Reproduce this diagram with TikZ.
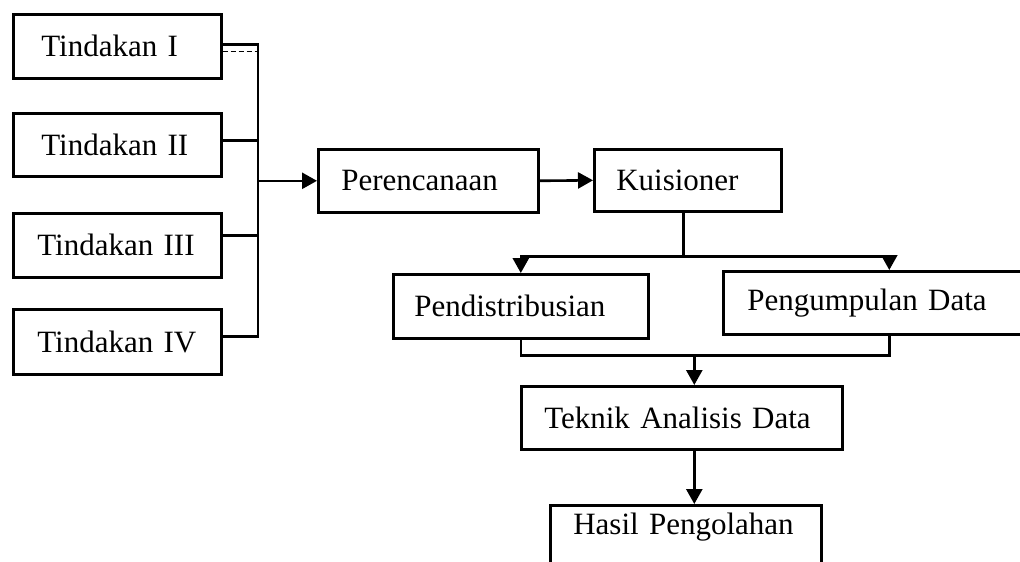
\documentclass[tikz,border=0pt]{standalone}
\usepackage{fontspec}
\setmainfont{Liberation Serif}
\usetikzlibrary{arrows.meta}
\begin{document}
\begin{tikzpicture}[x=1pt,y=-1pt,
  box/.style={draw, line width=2.6pt, anchor=north west, inner xsep=0pt, inner ysep=0pt,
    align=left, font=\fontsize{31}{36}\selectfont},
  conn/.style={line width=2.6pt},
  arr/.style={line width=2.6pt, -{Triangle[length=15pt,width=16pt]}}]
\useasboundingbox (0,0) rectangle (1020,562);
\clip (0,0) rectangle (1020,562);
% nodes
\node[box, text width=208pt, minimum height=64pt] (T1) at (12,13) {\hspace*{28pt}Tindakan I};
\node[box, text width=208pt, minimum height=63pt] (T2) at (12,112) {\hspace*{28pt}Tindakan II};
\node[box, text width=208pt, minimum height=64pt] (T3) at (12,212) {\hspace*{24pt}Tindakan III};
\node[box, text width=208pt, minimum height=65pt] (T4) at (12,308) {\hspace*{24pt}Tindakan IV};
\node[box, text width=220pt, minimum height=63pt] (Per) at (317,148) {\hspace*{23pt}Perencanaan};
\node[box, text width=187pt, minimum height=62pt] (Kui) at (593,148) {\hspace*{22pt}Kuisioner};
\node[box, text width=255pt, minimum height=64pt] (Pend) at (392,273) {\hspace*{21pt}Pendistribusian};
\node[box, text width=332pt, minimum height=63pt] (Peng) at (722,270) {\hspace*{24pt}Pengumpulan Data};
\node[box, text width=321pt, minimum height=63pt] (Tek) at (520,385) {\hspace*{23pt}Teknik Analisis Data};
\node[box, text width=271pt, text height=29pt, text depth=50pt] (Has) at (549,504) {\hspace*{23pt}Hasil Pengolahan};
% bus on the left
\path (Per.west) ++(-59,0) coordinate (bj);
\draw[conn] ([yshift=2pt]T1.east) -| (bj);
\draw[conn] ([yshift=4.5pt]T2.east) -| (bj);
\draw[conn] ([yshift=10pt]T3.east) -| (bj);
\draw[conn] ([yshift=5.5pt]T4.east) -| (bj);
\draw[dashed, line width=1pt, dash pattern=on 5pt off 3pt] ([yshift=-5pt]T1.east) -- ([yshift=-5pt]T1.east -| bj);
\draw[arr] (bj) -- (Per.west);
\draw[arr] (Per.east) -- (Kui.west);
% split below Kuisioner
\path ([xshift=-4.5pt]Kui.south) ++(0,44) coordinate (ks);
\draw[conn] ([xshift=-4.5pt]Kui.south) -- (ks);
\draw[arr] (ks) -| (Pend.north);
\draw[arr] (ks) -| (Peng.north);
% merge
\path (Pend.south) ++(173.5,16) coordinate (bm);
\draw[conn] (Pend.south) |- (bm) -| (Peng.south);
\draw[arr] (bm) -- (bm |- Tek.north);
\draw[arr] (bm |- Tek.south) -- (bm |- Has.north);
\end{tikzpicture}
\end{document}
